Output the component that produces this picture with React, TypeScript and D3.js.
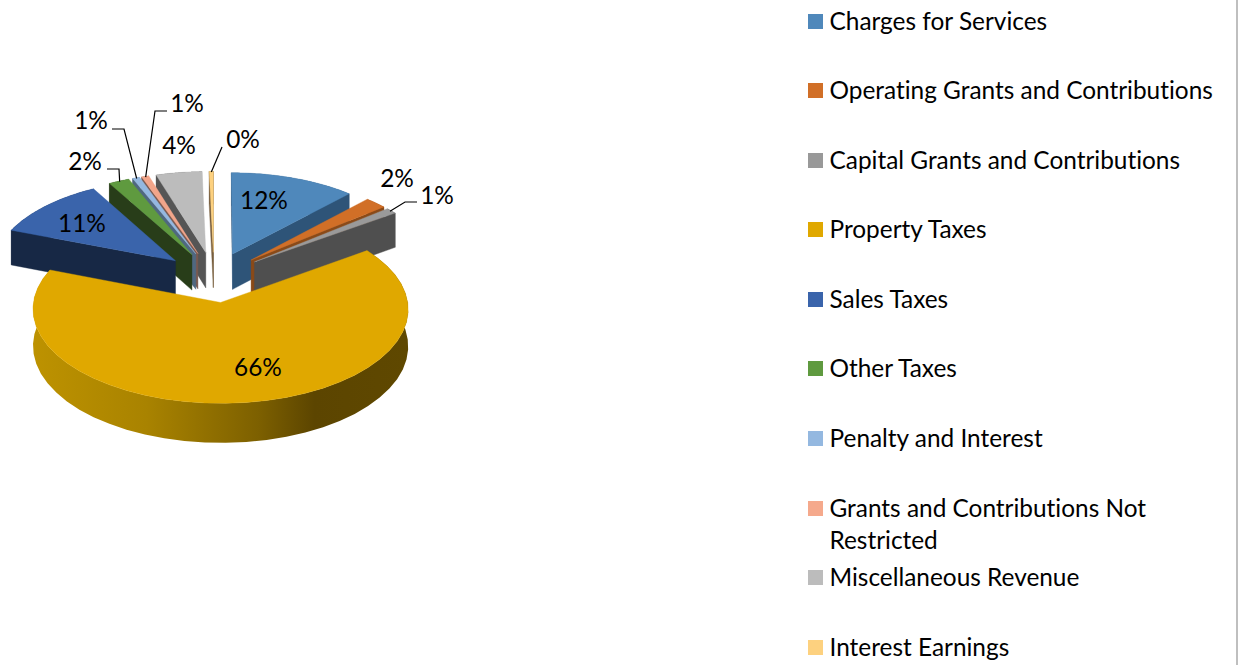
import React from "react";
import * as d3 from "d3";

const categories = ["Charges for Services","Operating Grants and Contributions","Capital Grants and Contributions","Property Taxes","Sales Taxes","Other Taxes","Penalty and Interest","Grants and Contributions Not Restricted","Miscellaneous Revenue","Interest Earnings"];
const values = [12.0, 2.1, 1.1, 65.6, 11.0, 2.0, 0.7, 0.7, 4.4, 0.4];
const topColors = ["#4f88bb","#d16f27","#9a9a9a","#e0a800","#3a64ab","#5f9a3f","#94b8e0","#f2a58a","#bcbcbc","#fdd17f"];
const wallColors = ["#2e5478","#8a4a18","#4f4f4f","#5c4500","#172845","#283d19","#4f6880","#7a5a50","#555555","#7a6040"];
const legendColors = ["#4f88bb","#d16f27","#999999","#e0a800","#3a64ab","#5f9a3f","#94b8e0","#f5a98c","#bcbcbc","#fdd17f"];
const legendRows = [21, 90, 160, 229, 299, 368, 438, 508, 577, 647];
const labelPos: [number, number][] = [[264,200],[397,178],[437,195],[258,367],[82,223],[85,161],[91,120],[187,103],[179,145],[243,139]];
const leaderElbows: ([number, number][] | null)[] = [null,null,[[417,202],[405,202]],null,null,[[107,169],[119,169]],[[112,129],[124,129]],[[167,111],[155,111]],null,[[222,147]]];

const cx = 214, cy = 277, rx = 183.5, ry = 90, persp = 0.07, explode = 0.28, depth = 36;

function project(X: number, Y: number, down = 0): [number, number] {
  const s = 1 / (1 + persp * Y);
  return [cx + rx * X * s, cy - ry * Y * s + down * s];
}

const arcs = d3.pie<number>().sort(null)(values).map((a, i) => {
  const mid = (a.startAngle + a.endAngle) / 2;
  const ax = explode * Math.sin(mid), ay = explode * Math.cos(mid);
  const pt = (t: number, r: number, down = 0) => project(ax + r * Math.sin(t), ay + r * Math.cos(t), down);
  const steps = d3.range(0, 41).map(k => a.startAngle + (a.endAngle - a.startAngle) * k / 40);
  return { i, a, mid, ay, pt, steps };
});
const drawOrder = [...arcs].sort((p, q) => q.ay - p.ay);
const line = d3.line();

function poly(points: [number, number][]) { return line(points) + "Z"; }

function Slice({ s }: { s: (typeof arcs)[number] }) {
  const { i, a, pt, steps } = s;
  const rimTop = steps.map(t => pt(t, 1));
  const rimBot = steps.map(t => pt(t, 1, depth)).reverse();
  const top = [pt(0, 0), ...rimTop] as [number, number][];
  const inner = pt(s.mid, 0.6);
  const wall = (t: number) => {
    const A = pt(t, 0), E = pt(t, 1);
    const lineY = A[1] + (E[1] - A[1]) * (inner[0] - A[0]) / ((E[0] - A[0]) || 1e-6);
    if (inner[1] >= lineY) return null;
    return <path d={poly([A, E, pt(t, 1, depth), pt(t, 0, depth)])} fill={wallColors[i]} stroke={wallColors[i]} strokeWidth={0.4} />;
  };
  return (
    <g>
      <path d={poly([...rimTop, ...rimBot])} fill={i === 3 ? "url(#rim)" : wallColors[i]} />
      {wall(a.startAngle)}
      {wall(a.endAngle)}
      <path d={poly(top)} fill={topColors[i]} stroke={topColors[i]} strokeWidth={0.4} />
    </g>
  );
}

export default function App() {
  const font = "Lato, Carlito, sans-serif";
  const textStyle = { fontVariantLigatures: "none" } as React.CSSProperties;
  return (
    <svg width={1238} height={665} style={{ position: "absolute", left: 0, top: 0, background: "#fff" }} fontFamily={font}>
      <defs>
        <linearGradient id="rim" gradientUnits="userSpaceOnUse" x1={34} x2={408} y1={0} y2={0}>
          <stop offset="0" stopColor="#bd9200" />
          <stop offset="0.3" stopColor="#a98300" />
          <stop offset="0.6" stopColor="#7d6000" />
          <stop offset="0.75" stopColor="#5c4500" />
          <stop offset="1" stopColor="#5f4800" />
        </linearGradient>
      </defs>
      {drawOrder.map(s => <Slice key={s.i} s={s} />)}
      {arcs.map(s => {
        const el = leaderElbows[s.i];
        if (!el) return null;
        const pts = [...el, s.pt(s.mid, 0.99)] as [number, number][];
        return <path key={s.i} d={line(pts) || ""} fill="none" stroke="#000" strokeWidth={1.2} />;
      })}
      {arcs.map(s => (
        <text key={s.i} x={labelPos[s.i][0]} y={labelPos[s.i][1]} dy="0.35em" textAnchor="middle" fontSize={24.4} fill="#000" style={textStyle}>
          {Math.round(values[s.i])}%
        </text>
      ))}
      {categories.map((c, i) => {
        const y = legendRows[i];
        const wrap = c.endsWith(" Restricted");
        return (
          <g key={c}>
            <rect x={808} y={y - 7} width={15} height={15} fill={legendColors[i]} />
            <text x={829.5} y={y} dy="0.35em" fontSize={24.4} fill="#000" style={textStyle}>
              {wrap ? c.replace(" Restricted", "") : c}
            </text>
            {wrap && <text x={829.5} y={y + 32} dy="0.35em" fontSize={24.4} fill="#000" style={textStyle}>Restricted</text>}
          </g>
        );
      })}
      <rect x={1236} y={0} width={2} height={665} fill="#bfbfbf" />
    </svg>
  );
}
